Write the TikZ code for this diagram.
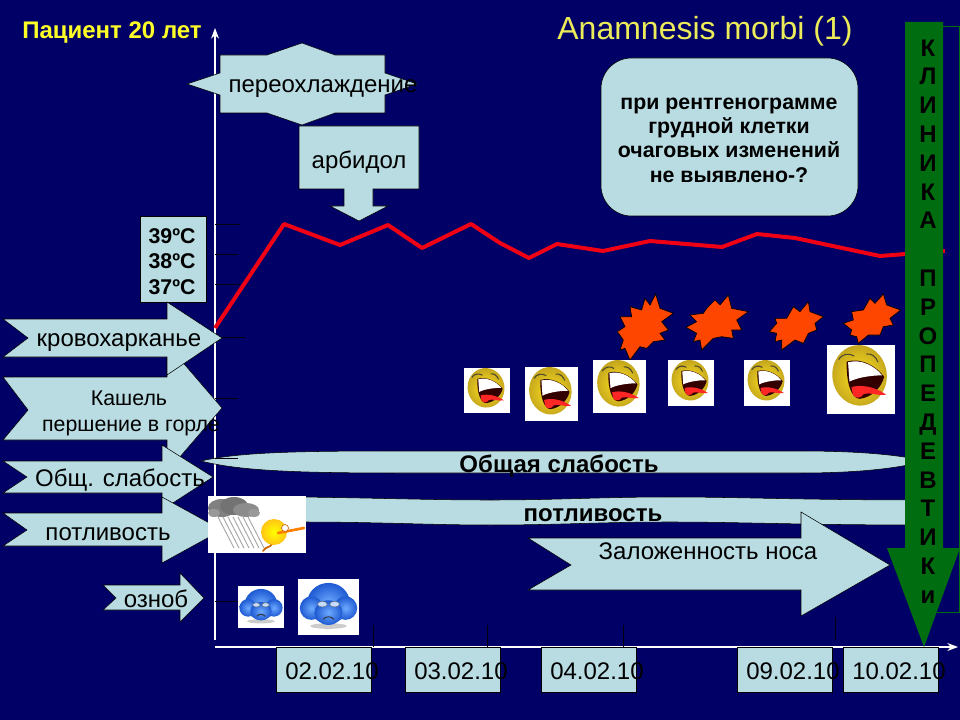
\documentclass[tikz,border=0pt]{standalone}
\usepackage{fontspec}
\setmainfont{Liberation Sans}
\usetikzlibrary{arrows.meta}

\definecolor{slidenavy}{RGB}{0,0,102}
\definecolor{panelblue}{RGB}{184,220,226}
\definecolor{titleyellow}{RGB}{236,236,90}
\definecolor{patientyellow}{RGB}{255,255,40}
\definecolor{clinicgreen}{RGB}{0,110,16}
\definecolor{burstred}{RGB}{255,70,0}
\definecolor{tempred}{RGB}{240,0,20}
\definecolor{faceyellow}{RGB}{255,226,30}
\definecolor{faceedge}{RGB}{196,166,30}
\definecolor{coldlight}{RGB}{110,170,255}
\definecolor{coldedge}{RGB}{30,90,210}

\tikzset{
  panel/.style={draw=black,line width=0.4pt,fill=panelblue},
  axisline/.style={draw=white,line width=0.9pt},
  tickline/.style={draw=black!85!slidenavy,line width=0.6pt},
  plain/.style={font=\fontsize{#1}{#1}\selectfont,inner sep=0pt},
  strong/.style={font=\fontsize{#1}{#1}\selectfont\bfseries,inner sep=0pt},
  burst/.style={draw=black,line width=0.5pt,fill=burstred,line join=miter},
  laughface/.pic={
    \fill [white] (0,0) rectangle (100,100);
    \shade [inner color=faceyellow,outer color=faceedge,rotate around={-8:(48,45)}] (48,44) ellipse (40 and 44);
    \fill [black!80!red] (29,24) .. controls (50,18) and (72,30) .. (84,46) .. controls (80,62) and (66,76) .. (48,78) .. controls (36,78) and (28,55) .. (29,24) -- cycle;
    \fill [white] (31,25) .. controls (50,20) and (70,30) .. (81,44) .. controls (65,44) and (45,47) .. (33,53) -- cycle;
    \fill [red!85!white] (36,61) .. controls (50,57) and (70,60) .. (87,72) .. controls (75,74) and (62,68) .. (54,71) .. controls (50,78) and (42,78) .. (38,72) -- cycle;
    \draw [black!60!olive,line width=0.8pt] (17,21) .. controls (22,13) and (32,11) .. (40,16);
    \draw [black!60!olive,line width=0.8pt] (58,13) .. controls (66,12) and (72,17) .. (75,25);
  },
  coldface/.pic={
    \fill [white] (0,0) rectangle (100,100);
    \fill [black!20] (50,84) ellipse (30 and 5);
    \shade [inner color=coldlight,outer color=coldedge] (50,43) ellipse (35 and 36);
    \shade [inner color=coldlight,outer color=coldedge] (22,52) ellipse (19 and 21);
    \shade [inner color=coldlight,outer color=coldedge] (78,52) ellipse (19 and 21);
    \shade [inner color=coldlight,outer color=coldedge] (50,60) ellipse (23 and 22);
    \draw [black!60,fill=coldlight!40!white,line width=0.3pt] (40,45) ellipse (8 and 5);
    \draw [black!60,fill=coldlight!40!white,line width=0.3pt] (60,45) ellipse (8 and 5);
    \draw [black!80,line width=0.7pt] (41,72) .. controls (46,66) and (54,66) .. (59,72);
  }
}

\begin{document}
\begin{tikzpicture}[x=0.75pt,y=0.75pt,yscale=-1,xscale=1]
\useasboundingbox (0,0) rectangle (960,720);

%Slide background
\fill [slidenavy] (0,0) rectangle (960,720);

%Straight Lines: axes
\coordinate (ybase) at (215,640);
\coordinate (ytop) at (215,28);
\coordinate (xbase) at (215,647);
\coordinate (xtop) at (958,647);
\draw [axisline,-{Stealth[length=8pt,width=6pt]}] (ybase) -- (ytop);
\draw [axisline,-{Stealth[length=8pt,width=6pt]}] (xbase) -- (xtop);

%Shape: thin frame behind the green arrow
\draw [clinicgreen,line width=0.6pt] (943,26) -- (959,26) -- (959,612) -- (937,612);

%Wave: weakness
\draw [panel] (201,461) .. controls (240,452) and (300,451) .. (400,451) -- (800,451) .. controls (860,451) and (900,455) .. (925,461) .. controls (900,468) and (860,473) .. (800,473) -- (400,473) .. controls (300,473) and (240,471) .. (201,461) -- cycle ;
%Wave: sweating
\draw [panel] (300,497) .. controls (380,498) and (430,500) .. (490,500) .. controls (560,500) and (600,497) .. (670,497) .. controls (740,497) and (800,500) .. (925,500) -- (925,525) .. controls (800,525) and (740,522) .. (670,522) .. controls (600,522) and (560,525) .. (490,525) .. controls (430,525) and (380,522) .. (300,522) -- cycle ;

%Straight Lines: ticks
\draw [tickline] (215,224) -- (240,224);
\draw [tickline] (215,254) -- (238,254);
\draw [tickline] (215,284) -- (240,284);
\draw [tickline] (215,337) -- (245,337);
\draw [tickline] (215,398) -- (238,398);
\draw [tickline] (215,458) -- (238,458);
\draw [tickline] (215,601) -- (238,601);
\draw [tickline] (373,625) -- (373,647);
\draw [tickline] (487,625) -- (487,647);
\draw [tickline] (623,625) -- (623,647);
\draw [tickline] (835,617) -- (835,640);

%Curve Lines: temperature
\draw [tempred,line width=3pt,line join=round] (215,328) -- (284,224) -- (340,245) -- (388,225) -- (422,248) -- (471,224) -- (500,243) -- (529,258) -- (557,244) -- (603,251) -- (650,241) -- (722,247) -- (757,234) -- (795,238) -- (880,256) -- (945,251);

%Shape: Cross Arrow
\draw [panel] (220,55) -- (267,55) -- (302,43) -- (335,55) -- (385,55) -- (385,73) -- (417,84) -- (385,95) -- (385,113) -- (335,113) -- (302,125) -- (267,113) -- (220,113) -- (220,95) -- (187,84) -- (220,73) -- cycle ;
%Shape: Down Arrow Callout
\draw [panel] (299,126) -- (419,126) -- (419,189) -- (373,189) -- (373,206) -- (388,206) -- (359,221) -- (330,206) -- (344,206) -- (344,189) -- (299,189) -- cycle ;
%Shape: Rectangle
\draw [panel] (140,216) rectangle (206,302);
%Shape: Rounded Rectangle
\draw [panel,rounded corners=23pt] (601,58) rectangle (858,216);

%Shape: Right Arrow
\draw [panel] (3,377) -- (167,377) -- (167,344) -- (222,408) -- (167,472) -- (167,440) -- (3,440) -- (28,410) -- cycle ;
%Shape: Right Arrow
\draw [panel] (3,319) -- (167,319) -- (167,302) -- (222,338) -- (167,375) -- (167,357) -- (3,357) -- (28,338) -- cycle ;
%Shape: Right Arrow
\draw [panel] (3,461) -- (162,461) -- (162,445) -- (213,477) -- (162,510) -- (162,493) -- (3,493) -- (27,477) -- cycle ;
%Shape: Right Arrow
\draw [panel] (3,513) -- (162,513) -- (162,497) -- (222,530) -- (162,563) -- (162,546) -- (3,546) -- (27,530) -- cycle ;
%Shape: Right Arrow
\draw [panel] (103,585) -- (180,585) -- (180,573) -- (204,598) -- (180,622) -- (180,610) -- (103,610) -- (116,598) -- cycle ;
%Shape: Right Arrow
\draw [panel] (528,538) -- (801,538) -- (801,512) -- (890,565) -- (801,616) -- (801,590) -- (528,590) -- (571,565) -- cycle ;

%Shape: Date boxes
\draw [panel] (276,647) rectangle (371,692);
\draw [panel] (405,647) rectangle (500,692);
\draw [panel] (541,647) rectangle (636,692);
\draw [panel] (737,647) rectangle (832,692);
\draw [panel] (843,647) rectangle (938,692);

%Shape: Down Arrow
\fill [clinicgreen] (905,22) -- (943,22) -- (943,548) -- (960,548) -- (924,647) -- (887,548) -- (905,548) -- cycle ;

%Shape: Bursts
\begin{scope}[shift={(480,280)},x=0.25pt,y=0.25pt]
\draw [burst] (527,42) -- (540,85) -- (580,100) -- (545,125) -- (565,150) -- (540,160) -- (555,180) -- (520,185) -- (500,205) -- (480,200) -- (450,240) -- (435,205) -- (420,210) -- (430,180) -- (412,155) -- (435,140) -- (420,110) -- (455,110) -- (450,80) -- (485,90) -- (495,55) -- (510,75) -- cycle ;
\draw [burst] (745,45) -- (755,85) -- (805,95) -- (770,120) -- (785,150) -- (755,150) -- (760,175) -- (725,170) -- (700,175) -- (665,210) -- (660,180) -- (640,185) -- (650,160) -- (618,142) -- (650,125) -- (630,105) -- (670,100) -- (680,85) -- (705,60) -- (720,75) -- cycle ;
\draw [burst] (985,65) -- (990,95) -- (1030,110) -- (1005,130) -- (1010,150) -- (985,160) -- (970,190) -- (945,180) -- (905,210) -- (905,180) -- (885,185) -- (890,160) -- (868,155) -- (890,130) -- (885,115) -- (920,115) -- (940,80) -- (960,95) -- cycle ;
\draw [burst] (1210,42) -- (1220,75) -- (1262,90) -- (1230,115) -- (1240,135) -- (1210,140) -- (1200,165) -- (1165,165) -- (1135,190) -- (1130,170) -- (1110,165) -- (1115,150) -- (1090,130) -- (1120,120) -- (1115,95) -- (1150,90) -- (1170,55) -- (1185,70) -- cycle ;
\end{scope}

%Pictures: laughing faces
\pic [xscale=0.46,yscale=-0.45] at (464,368) {laughface};
\pic [xscale=0.53,yscale=-0.54] at (525,367) {laughface};
\pic [xscale=0.53,yscale=-0.53] at (593,360) {laughface};
\pic [xscale=0.46,yscale=-0.46] at (668,360) {laughface};
\pic [xscale=0.46,yscale=-0.46] at (744,360) {laughface};
\pic [xscale=0.68,yscale=-0.69] at (827,345) {laughface};

%Pictures: cold faces
\pic [xscale=0.46,yscale=-0.42] at (238,586) {coldface};
\pic [xscale=0.61,yscale=-0.56] at (298,579) {coldface};

%Picture: rain and runner
\fill [white] (208,496) rectangle (306,553);
\foreach \ox in {218,223,228,233,238,243,248}
  \draw [black!35,line width=0.7pt] (\ox,517) -- (\ox+16,548);
\fill [black!50] (222,508) ellipse (14 and 9);
\fill [black!55] (234,506) ellipse (14 and 9);
\fill [black!45] (246,510) ellipse (13 and 7);
\fill [black!40] (254,513) ellipse (6 and 4);
\fill [black!40] (214,513) ellipse (6 and 4);
\draw [orange!80!black,line width=1.3pt,line cap=round] (263,551) .. controls (266,546) and (270,548) .. (272,544);
\shade [inner color=yellow,outer color=faceyellow!70!orange] (274,532) circle (13);
\draw [orange,line width=2pt,line cap=round] (278,533) -- (304,528);
\draw [orange!80!black,line width=0.5pt,fill=white] (285,528) circle (3.5);

% Text Node
\draw (112,33) node [strong=18pt,text=patientyellow] (patient) {Пациент 20 лет};
% Text Node
\draw (705,31) node [plain=24pt,text=titleyellow] (title) {Anamnesis morbi (1)};
% Text Node
\draw (323,89) node [plain=18pt] (chill) {переохлаждение};
% Text Node
\draw (359,162) node [plain=18pt] (arbidol) {арбидол};
% Text Node
\draw (172,261.5) node [font=\fontsize{16}{19.1}\selectfont\bfseries,align=center,inner sep=0pt] (temps) {39ºC\\38ºC\\37ºC};
% Text Node
\draw (729,140) node [font=\fontsize{16}{18.3}\selectfont\bfseries,align=center,inner sep=0pt] (xray) {при рентгенограмме\\грудной клетки\\очаговых изменений\\не выявлено-?};
% Text Node
\draw (119,343) node [plain=18pt] (hemopt) {кровохарканье};
% Text Node
\draw (129,398) node [plain=16pt] (cough) {Кашель};
% Text Node
\draw (131,428) node [plain=16pt] (throat) {першение в горле};
% Text Node
\draw (120,480) node [plain=18pt] (weak) {Общ. слабость};
% Text Node
\draw (108,534) node [plain=18pt] (sweat) {потливость};
% Text Node
\draw (156,599) node [plain=18pt] (chills) {озноб};
% Text Node
\draw (559,466) node [strong=18pt] (weakband) {Общая слабость};
% Text Node
\draw (593,515) node [strong=18pt] (sweatband) {потливость};
% Text Node
\draw (708,551) node [plain=18pt] (nose) {Заложенность носа};
% Text Node
\draw (285,671) node [anchor=west,plain=18pt] (dateA) {02.02.10};
% Text Node
\draw (414,671) node [anchor=west,plain=18pt] (dateB) {03.02.10};
% Text Node
\draw (550,671) node [anchor=west,plain=18pt] (dateC) {04.02.10};
% Text Node
\draw (746,671) node [anchor=west,plain=18pt] (dateD) {09.02.10};
% Text Node
\draw (852,671) node [anchor=west,plain=18pt] (dateE) {10.02.10};
% Text Node
\draw (928,321.5) node [font=\fontsize{18}{21.6}\selectfont\bfseries,align=center,inner sep=0pt] (clinic) {К\\Л\\И\\Н\\И\\К\\А\\~\\П\\Р\\О\\П\\Е\\Д\\Е\\В\\Т\\И\\К\\и};

\end{tikzpicture}
\end{document}
